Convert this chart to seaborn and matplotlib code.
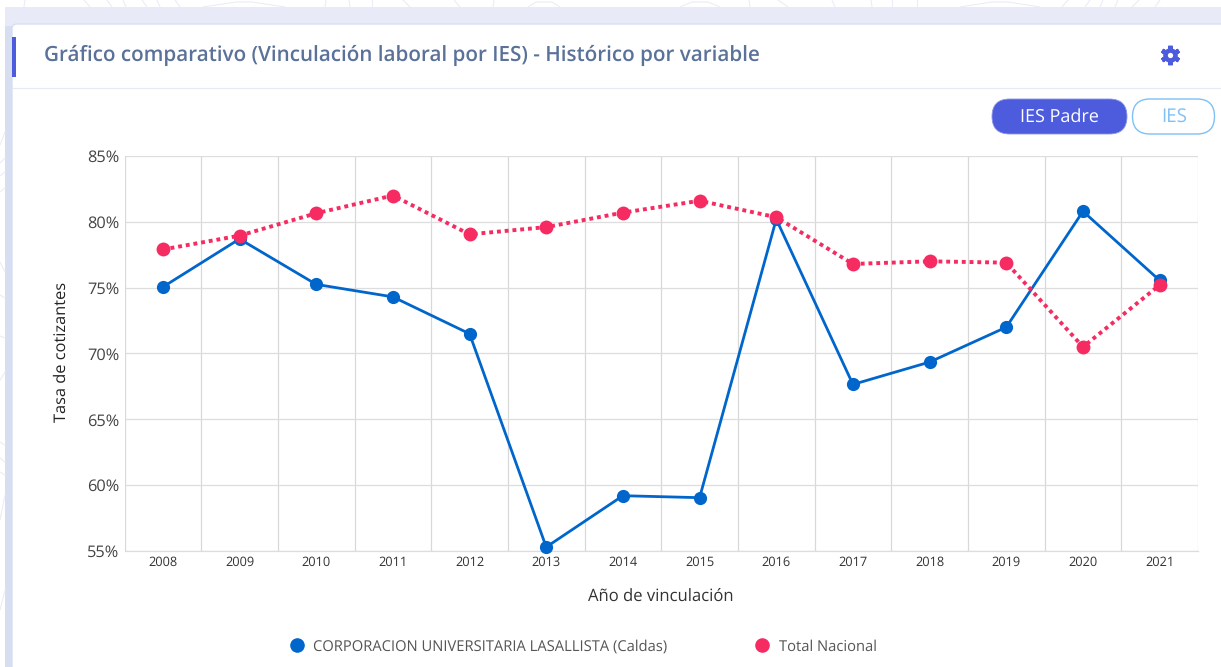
import numpy as np
import pandas as pd
import matplotlib
matplotlib.use('Agg')
import matplotlib.pyplot as plt
import seaborn as sns
from matplotlib.lines import Line2D
from matplotlib.patches import Rectangle, FancyBboxPatch

years = ['2008', '2009', '2010', '2011', '2012', '2013', '2014', '2015', '2016', '2017', '2018', '2019', '2020', '2021']
lasallista = [75.05, 78.7, 75.25, 74.3, 71.5, 55.3, 59.2, 59.05, 80.2, 67.65, 69.35, 72.0, 80.8, 75.55]
nacional = [77.9, 78.95, 80.65, 82.0, 79.05, 79.6, 80.7, 81.6, 80.35, 76.8, 77.0, 76.9, 70.5, 75.2]
yticks = [55, 60, 65, 70, 75, 80, 85]

W, H = 1221, 667
BLUE = '#0066CC'
RED = '#F62B62'
INDIGO = '#4D5BDD'
DECO = '#EAEDF7'

sns.set_theme(style='whitegrid')
plt.rcParams['font.family'] = ['Open Sans', 'DejaVu Sans']
plt.rcParams['text.hinting'] = 'no_hinting'

fig = plt.figure(figsize=(W / 100, H / 100), dpi=100, facecolor='white')

# fondo de la tarjeta, en pixeles
bg = fig.add_axes([0, 0, 1, 1], zorder=0)
bg.set_xlim(0, W)
bg.set_ylim(H, 0)
bg.axis('off')

# trazos del fondo
for x0, x1 in [(24, 25), (90, 84), (112, 107), (126, 123), (147, 142), (160, 157), (180, 175),
               (325, 326), (350, 349), (372, 372), (410, 403), (460, 454), (493, 494),
               (750, 749), (788, 778), (835, 832), (872, 871), (892, 892), (917, 917),
               (1062, 1068), (1085, 1090), (1100, 1103), (1115, 1118), (1132, 1139), (1155, 1160)]:
    bg.plot([x0, x1], [7, 0], color=DECO, lw=0.8)
for xa, xb in [(203, 285), (528, 560), (680, 720), (960, 1040)]:
    xs = np.array([xa, (xa + xb) / 2 - 8, (xa + xb) / 2 + 8, xb])
    bg.plot(xs, [7, 2, 2, 7], color=DECO, lw=0.8)
for y0, y1 in [(132, 145), (158, 163), (172, 176), (188, 192), (272, 262), (298, 295),
               (338, 336), (372, 380), (445, 442), (462, 458), (475, 472), (495, 520), (590, 610)]:
    bg.plot([5, 0], [y0, y1], color=DECO, lw=0.8)

bg.add_patch(Rectangle((5, 7), W - 5, H - 7, color='#E8EBF7', lw=0))
bg.add_patch(Rectangle((5, 26), 7, H - 26, color='#D8DEF2', lw=0))
bg.add_patch(FancyBboxPatch((12, 24), W, H, boxstyle='round,pad=0,rounding_size=5',
                            fc='white', ec='#D5DDF1', lw=0.9))
bg.add_patch(Rectangle((12, 37), 4, 40, color=INDIGO, lw=0))
bg.plot([12, W], [87.5, 87.5], color='#E6EAF4', lw=0.9)
bg.text(44, 55.5, 'Gráfico comparativo (Vinculación laboral por IES) - Histórico por variable',
        fontsize=14.85, fontweight='semibold', color='#5A7199', va='center', ha='left')

# engranaje
bg.plot(1170, 54.5, ls='', marker=(6, 2, 0), ms=14, mew=3.2, color=INDIGO)
bg.plot(1170, 54.5, ls='', marker='o', ms=10.5, mew=0, color=INDIGO)
bg.plot(1170, 54.5, ls='', marker='o', ms=3.8, mew=0, color='white')

bg.add_patch(FancyBboxPatch((992, 99), 135, 35, boxstyle='round,pad=0,rounding_size=17.5',
                            fc=INDIGO, ec='#8C96E8', lw=0.6))
bg.text(1059.5, 117, 'IES Padre', fontsize=13, color='white', va='center', ha='center')
bg.add_patch(FancyBboxPatch((1132.5, 99), 82, 35, boxstyle='round,pad=0,rounding_size=17.5',
                            fc='white', ec='#7FC0F5', lw=1))
bg.text(1174, 117, 'IES', fontsize=13.5, color='#7FC0F5', va='center', ha='center')

ax = fig.add_axes([124.5 / W, 1 - 551 / H, (1198 - 124.5) / W, (551 - 156) / H], zorder=1)
ax.patch.set_alpha(0)

sns.lineplot(x=years, y=lasallista, color=BLUE, lw=2, marker='o', markersize=9.5,
             markeredgewidth=0, ax=ax, clip_on=False, zorder=3)
sns.lineplot(x=years, y=nacional, color=RED, lw=2.8, linestyle=(0, (1, 1)), marker='o',
             markersize=10, markeredgewidth=0, ax=ax, clip_on=False, zorder=4)

ax.set_xlim(-0.5, len(years) - 0.5)
ax.set_ylim(55, 85)
ax.set_yticks(yticks)
ax.set_yticklabels([f'{v}%' for v in yticks], fontsize=11.8, color='#444444')
ax.set_xticks(range(len(years)))
ax.set_xticklabels(years, fontsize=9.2, color='#333333')
ax.set_xticks(np.arange(-0.5, len(years)), minor=True)

ax.grid(False)
ax.grid(True, axis='y', which='major', color='#DDDDDD', lw=0.9)
ax.grid(True, axis='x', which='minor', color='#D8D8D8', lw=0.9)
ax.tick_params(axis='both', which='both', length=0)
ax.tick_params(axis='x', which='major', pad=3.5)
ax.tick_params(axis='y', which='major', pad=3.5)
for s in ax.spines.values():
    s.set_visible(False)
ax.spines['bottom'].set_visible(True)
ax.spines['bottom'].set_color('#DDDDDD')
ax.spines['bottom'].set_linewidth(0.9)

ax.set_xlabel('Año de vinculación', fontsize=12, color='#333333', labelpad=14)
ax.set_ylabel('Tasa de cotizantes', fontsize=11.8, color='#222222', labelpad=12.5)
ax.yaxis.label.set_y(0.5 + 2 / 395)

handles = [Line2D([], [], ls='', marker='o', ms=10.5, mew=0, color=BLUE),
           Line2D([], [], ls='', marker='o', ms=10.5, mew=0, color=RED)]
labels = ['CORPORACION UNIVERSITARIA LASALLISTA (Caldas)', 'Total Nacional']
fig.legend(handles, labels, ncol=2, frameon=False, loc='center',
           bbox_to_anchor=(582 / W, 1 - 646.5 / H), fontsize=10.65, labelcolor='#555555',
           columnspacing=5.75, handletextpad=0.45, handlelength=1.3)

fig.savefig('out.png', dpi=100)
